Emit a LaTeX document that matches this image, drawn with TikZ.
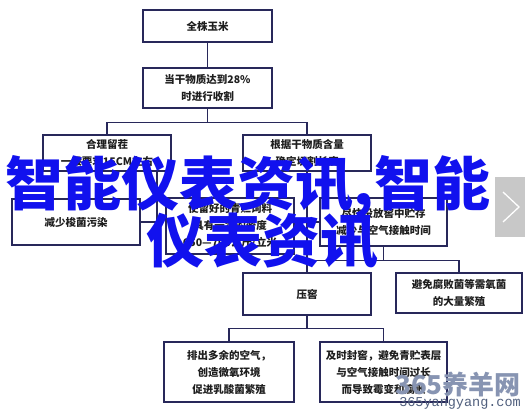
\documentclass[tikz,border=0pt]{standalone}
\usepackage{fontspec}
\newfontfamily\cjk{Noto Sans CJK SC}
\newfontfamily\monofnt{Liberation Mono}
\definecolor{boxline}{RGB}{40,40,90}
\definecolor{boxtext}{RGB}{30,30,30}
\definecolor{overlayblue}{RGB}{17,17,238}
\definecolor{btngray}{RGB}{200,200,200}
\definecolor{wmfill}{RGB}{135,148,178}
\definecolor{wmline}{RGB}{80,95,125}
\tikzset{
  flowbox/.style={draw=boxline, line width=1.6pt, fill=white, inner sep=0pt,
    align=center, text=boxtext, font=\cjk\bfseries\fontsize{10.5}{17}\selectfont},
  conn/.style={draw=boxline, line width=1.4pt},
  overlay/.style={text=overlayblue, font=\cjk\bfseries\fontsize{58}{58}\selectfont, inner sep=0pt},
}
\begin{document}
\begin{tikzpicture}[x=1pt,y=-1pt]
\useasboundingbox (0,0) rectangle (525,411);
\fill[white] (0,0) rectangle (525,411);
% boxes
\node[flowbox, minimum width=129, minimum height=32] (b1) at (207.5,26) {全株玉米};
\node[flowbox, minimum width=129, minimum height=40] (b2) at (207.5,88) {当干物质达到28\%\\时进行收割};
\node[flowbox, minimum width=128, minimum height=36] (b3) at (107,153) {合理留茬\\一般要求15CM左右};
\node[flowbox, minimum width=128, minimum height=36] (b4) at (307,153) {根据干物质含量\\确定切割长度};
\node[flowbox, minimum width=128, minimum height=46] (b5) at (76,222) {减少梭菌污染};
\node[flowbox, minimum width=128, minimum height=56] (b6) at (230,226) {使留好的青贮饲料\\具有一定的密度\\650—700公斤/立米};
\node[flowbox, minimum width=127, minimum height=48] (b7) at (383.5,222) {尽快投放窖中贮存\\减少与空气接触时间};
\node[flowbox, minimum width=128, minimum height=42] (b8) at (307,294) {压窖};
\node[flowbox, minimum width=126, minimum height=40] (b9) at (459,293) {避免腐败菌等需氧菌\\的大量繁殖};
\node[flowbox, minimum width=130, minimum height=60] (b10) at (229,372) {排出多余的空气，\\创造微氧环境\\促进乳酸菌繁殖};
\node[flowbox, minimum width=127, minimum height=60] (b11) at (383.5,372) {及时封窖，避免青贮表层\\与空气接触时间过长\\而导致霉变和腐败};
% connectors
\draw[conn] (b1.south) -- (b2.north);
\draw[conn] (b2.south) -- ++(0,14) coordinate (j1);
\draw[conn] (b3.north) |- (j1) -| (b4.north);
\draw[conn] ([xshift=50pt]b3.south) |- (b5.east);
\draw[conn] (b4.south) -- (b8.north);
\draw[conn] (b6.east |- b7.west) -- (b7.west);
\draw[conn] (b7.south) -- ++(0,14) coordinate (j3);
\draw[conn] (b8.north |- j3) -| (b9.north);
\draw[conn] (b8.south) -- ++(0,13) coordinate (j4);
\draw[conn] (b10.north) |- (j4) -| (b11.north);
% gray button
\fill[btngray] (495,177) rectangle (525,237);
\coordinate (c1) at (503,192);
\coordinate (c2) at (519,207);
\coordinate (c3) at (503,222);
\draw[white, line width=1.3pt, line join=miter] (c1) -- (c2) -- (c3);
% blue overlay text
\node[overlay, anchor=base] (ov1) at (248,206) {智能仪表资讯,智能};
\node[overlay, anchor=base] (ov2) at (262,263) {仪表资讯};
% watermark
\node[anchor=base east, inner sep=0pt, font=\cjk\bfseries\fontsize{26}{26}\selectfont,
  text=wmfill] (wm1) at (521,395) {365养羊网};
\node[anchor=base east, inner sep=0pt, font=\monofnt\fontsize{13.5}{13.5}\selectfont,
  text=wmline] (wm2) at (521,407) {365yangyang.com};
\end{tikzpicture}
\end{document}
